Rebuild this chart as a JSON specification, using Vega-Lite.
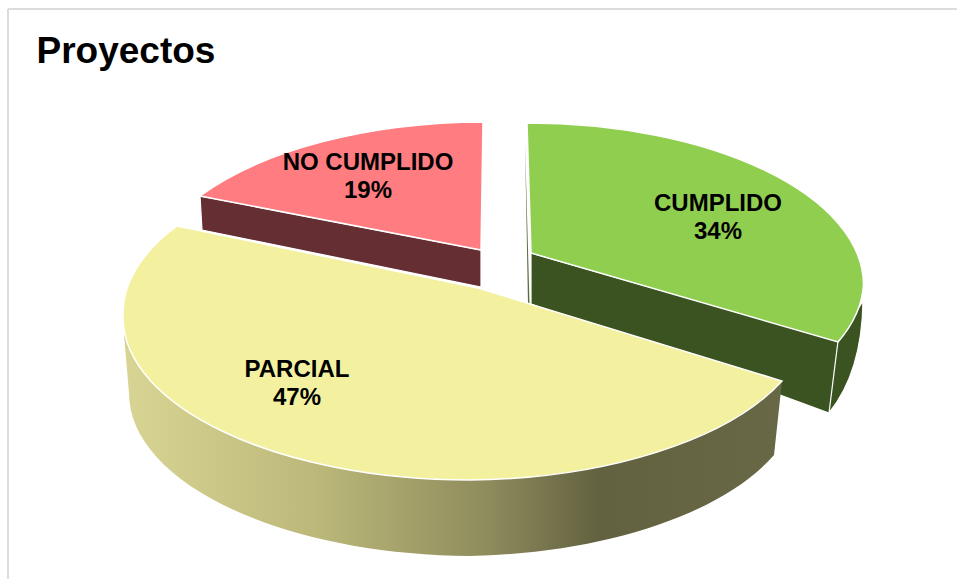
{"$schema":"https://vega.github.io/schema/vega-lite/v6.json","width":949,"height":570,"autosize":"none","padding":{"left":8,"top":9,"right":0,"bottom":0},"background":"white","config":{"view":{"stroke":null}},"data":{"values":[{"part":"CUMPLIDO","value":34},{"part":"NO CUMPLIDO","value":19},{"part":"PARCIAL","value":47}]},"transform":[{"calculate":"datum.part + '\\n' + datum.value + '%'","as":"label"}],"layer":[{"mark":{"type":"rule","color":"#dcdcdc","strokeWidth":2},"encoding":{"x":{"value":0}}},{"mark":{"type":"rule","color":"#dcdcdc","strokeWidth":2},"encoding":{"y":{"value":0}}},{"data":{"values":[{"heading":"Proyectos"}]},"mark":{"type":"text","font":"Liberation Sans","fontSize":37,"fontWeight":"bold","color":"#000000","align":"left","baseline":"alphabetic","dx":-446,"dy":-231},"encoding":{"text":{"field":"heading"}}},{"transform":[{"filter":"datum.part !== 'PARCIAL'"}],"mark":{"type":"point","filled":true,"opacity":1,"size":4,"stroke":"white","strokeWidth":1.2},"encoding":{"shape":{"field":"part","type":"nominal","legend":null,"scale":{"domain":["CUMPLIDO","NO CUMPLIDO"],"range":["M48.5,-41 L355.5,47 L346.5,119 L48.5,10 Z M355.5,47 L380.5,7 Q379.5,78 346.5,119 Z","M-282.5,-98 L-1.5,-44 L-1.5,-7 L-280.5,-64 Z"]}},"fill":{"field":"part","type":"nominal","legend":null,"scale":{"domain":["CUMPLIDO","NO CUMPLIDO"],"range":["#3b5320","#652e32"]}}}},{"transform":[{"filter":"datum.part === 'CUMPLIDO'"}],"mark":{"type":"point","filled":true,"opacity":1,"size":4,"strokeWidth":0,"fill":"#56703c","shape":"M42.5,-152 L47,10 L45.5,10 Z"},"encoding":{}},{"transform":[{"filter":"datum.part === 'PARCIAL'"}],"mark":{"type":"point","opacity":1,"size":4,"filled":true,"strokeWidth":0,"shape":"M-358.5,41 L-353.5,99 A345,163 0 0 0 -12.5,262 A345,163 0 0 0 291.5,161 L299.5,87 Z","fill":{"gradient":"linear","x1":0,"y1":0,"x2":1,"y2":0,"stops":[{"offset":0,"color":"#d8d594"},{"offset":0.3,"color":"#bab779"},{"offset":0.55,"color":"#8f8c5d"},{"offset":0.72,"color":"#636240"},{"offset":1,"color":"#686746"}]}},"encoding":{}},{"mark":{"type":"point","filled":true,"opacity":1,"size":4,"stroke":"white","strokeWidth":1.5},"encoding":{"shape":{"field":"part","type":"nominal","legend":null,"scale":{"domain":["CUMPLIDO","NO CUMPLIDO","PARCIAL"],"range":["M44.5,-171 A336,162 0 0 1 381,-9 A336,162 0 0 1 355.5,48 L48.5,-41 Z","M-282.5,-98 A340,163 0 0 1 0.5,-172 L-1.5,-44 Z","M-4.5,-6 L299.5,87 A347,163 0 0 1 -12.5,186 A347,163 0 0 1 -359.5,23 A347,163 0 0 1 -305.5,-68 Z"]}},"fill":{"field":"part","type":"nominal","legend":null,"scale":{"domain":["CUMPLIDO","NO CUMPLIDO","PARCIAL"],"range":["#90ce50","#ff7c80","#f3f0a0"]}}}},{"transform":[{"filter":"datum.part === 'CUMPLIDO'"}],"mark":{"type":"text","font":"Liberation Sans","fontSize":24,"fontWeight":"bold","color":"#000000","align":"center","baseline":"alphabetic","lineBreak":"\n","lineHeight":28,"dx":235.5,"dy":-83.3},"encoding":{"text":{"field":"label"}}},{"transform":[{"filter":"datum.part === 'NO CUMPLIDO'"}],"mark":{"type":"text","font":"Liberation Sans","fontSize":24,"fontWeight":"bold","color":"#000000","align":"center","baseline":"alphabetic","lineBreak":"\n","lineHeight":28,"dx":-114.5,"dy":-124},"encoding":{"text":{"field":"label"}}},{"transform":[{"filter":"datum.part === 'PARCIAL'"}],"mark":{"type":"text","font":"Liberation Sans","fontSize":24,"fontWeight":"bold","color":"#000000","align":"center","baseline":"alphabetic","lineBreak":"\n","lineHeight":28,"dx":-185.5,"dy":82.7},"encoding":{"text":{"field":"label"}}}],"resolve":{"scale":{"shape":"independent","fill":"independent"}}}
